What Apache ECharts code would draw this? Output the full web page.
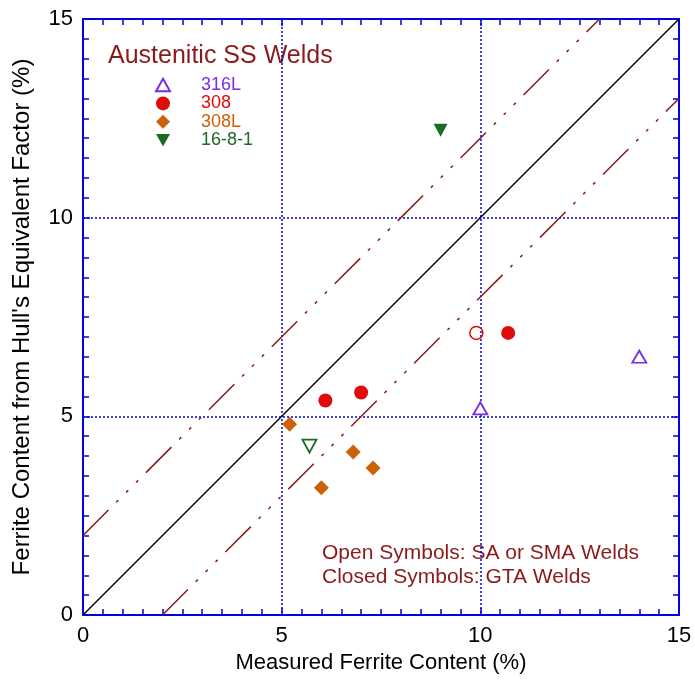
<!DOCTYPE html>
<html><head><meta charset="utf-8">
<script src="https://cdn.jsdelivr.net/npm/echarts@6/dist/echarts.min.js"></script>
<style>html,body{margin:0;padding:0;background:#fff}#c{width:695px;height:682px}</style>
</head><body><div id="c"></div>
<script>
// Data
var s316L_open = [[14.0, 6.5], [10.0, 5.2]];
var s308_closed = [[6.1, 5.4], [7.0, 5.6], [10.7, 7.1]];
var s308_open = [[9.9, 7.1]];
var s308L_closed = [[5.2, 4.8], [6.8, 4.1], [7.3, 3.7], [6.0, 3.2]];
var s1681_closed = [[9.0, 12.2]];
var s1681_open = [[5.7, 4.25]];
var lineEqual = [[0, 0], [15, 15]];
var lineUpper = [[0, 2], [13, 15]];
var lineLower = [[2, 0], [15, 13]];
var axisTicks = [0, 5, 10, 15];

var FONT = 'Arial, "Liberation Sans", sans-serif';
var BLUE = '#0000e6';
var MAROON = '#8b1a1a';
var PURPLE = '#7a2be6';
var RED = '#e00b0b';
var ORANGE = '#cc6108';
var GREEN = '#1b6b22';
var DOWN_TRI = 'path://M0,0 L10,0 L5,9 Z';
var UP_TRI = 'path://M5,0 L10,9 L0,9 Z';

function axisCommon(showLabel, pos) {
  return {
    type: 'value', min: 0, max: 15, interval: 5, position: pos,
    axisLine: {show: true, onZero: false, lineStyle: {color: BLUE, width: 2}},
    axisTick: {show: true, inside: true, length: 7, lineStyle: {color: BLUE, width: 1.5}},
    minorTick: {show: true, splitNumber: 10, length: 6, lineStyle: {color: BLUE, width: 1.5}},
    axisLabel: {show: showLabel, color: '#000', fontSize: 22, fontFamily: FONT, margin: 10,
      formatter: function (v) { return axisTicks.indexOf(v) >= 0 ? String(v) : ''; }},
    splitLine: {show: false}
  };
}

var xMain = axisCommon(true, 'bottom');
xMain.name = 'Measured Ferrite Content (%)';
xMain.nameLocation = 'middle';
xMain.nameGap = 37;
xMain.nameTextStyle = {color: '#000', fontSize: 22, fontFamily: FONT};
xMain.splitLine = {show: true, lineStyle: {color: BLUE, type: [2, 2], width: 1.5}};
var yMain = axisCommon(true, 'left');
yMain.name = "Ferrite Content from Hull's Equivalent Factor (%)";
yMain.nameLocation = 'middle';
yMain.nameGap = 49;
yMain.nameTextStyle = {color: '#000', fontSize: 24, fontFamily: FONT};
yMain.splitLine = {show: true, lineStyle: {color: BLUE, type: [2, 2], width: 1.5}};
var xTop = axisCommon(false, 'top');
var yRight = axisCommon(false, 'right');

var dashPattern = [36, 11, 3, 11, 3, 11, 3, 11];

var option = {
  animation: false,
  backgroundColor: '#fff',
  grid: {left: 83, top: 19, right: 16, bottom: 67, containLabel: false},
  xAxis: [xMain, xTop],
  yAxis: [yMain, yRight],
  legend: {
    orient: 'vertical', left: 150, top: 71, itemGap: 0.4, itemWidth: 14, itemHeight: 14,
    data: [
      {name: '316L', textStyle: {color: PURPLE}},
      {name: '308', textStyle: {color: RED}},
      {name: '308L', textStyle: {color: ORANGE}},
      {name: '16-8-1', textStyle: {color: GREEN}}
    ],
    textStyle: {fontSize: 18, lineHeight: 18, fontFamily: FONT, padding: [0, 0, 0, 26]},
    selectedMode: false
  },
  graphic: [
    {type: 'text', x: 108, y: 56, style: {text: 'Austenitic SS Welds', fill: MAROON, fontSize: 25, fontFamily: FONT, verticalAlign: 'middle'}},
    {type: 'text', x: 322, y: 553, style: {text: 'Open Symbols: SA or SMA Welds', fill: MAROON, fontSize: 21, fontFamily: FONT, verticalAlign: 'middle'}},
    {type: 'text', x: 322, y: 577, style: {text: 'Closed Symbols: GTA Welds', fill: MAROON, fontSize: 21, fontFamily: FONT, verticalAlign: 'middle'}}
  ],
  series: [
    {type: 'line', data: lineEqual, symbol: 'none', silent: true, lineStyle: {color: '#000', width: 1.5}, z: 3},
    {type: 'line', data: lineUpper, symbol: 'none', silent: true, lineStyle: {color: MAROON, width: 1.5, type: dashPattern}, z: 3},
    {type: 'line', data: lineLower, symbol: 'none', silent: true, lineStyle: {color: MAROON, width: 1.5, type: dashPattern}, z: 3},
    {name: '316L', type: 'scatter', data: s316L_open, symbol: UP_TRI, symbolSize: [14, 12],
      itemStyle: {color: '#fff', borderColor: PURPLE, borderWidth: 1.8, opacity: 1}, z: 5},
    {name: '308', type: 'scatter', data: s308_closed, symbol: 'circle', symbolSize: 14,
      itemStyle: {color: RED, opacity: 1}, z: 5},
    {name: '308 open', type: 'scatter', data: s308_open, symbol: 'circle', symbolSize: 13,
      itemStyle: {color: 'rgba(255,255,255,0)', borderColor: RED, borderWidth: 1.5, opacity: 1}, z: 5},
    {name: '308L', type: 'scatter', data: s308L_closed, symbol: 'diamond', symbolSize: 15,
      itemStyle: {color: ORANGE, opacity: 1}, z: 5},
    {name: '16-8-1', type: 'scatter', data: s1681_closed, symbol: DOWN_TRI, symbolSize: [14, 13],
      itemStyle: {color: GREEN, opacity: 1}, z: 5},
    {name: '16-8-1 open', type: 'scatter', data: s1681_open, symbol: DOWN_TRI, symbolSize: [14, 13],
      itemStyle: {color: '#fff', borderColor: GREEN, borderWidth: 1.8, opacity: 1}, z: 5}
  ]
};
var chart = echarts.init(document.getElementById('c'), null, {renderer: 'canvas'});
chart.setOption(option);
</script></body></html>
